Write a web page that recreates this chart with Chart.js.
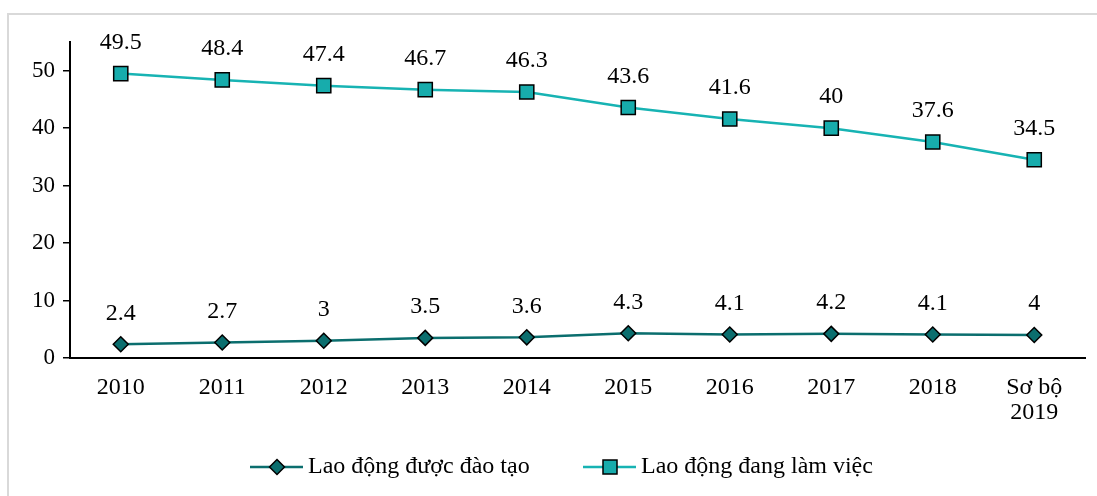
<!DOCTYPE html>
<html>
<head>
<meta charset="utf-8">
<script src="https://cdn.jsdelivr.net/npm/chart.js@4"></script>
<style>
  html, body { margin: 0; padding: 0; background: #fff; }
  #wrap { width: 1097px; height: 496px; }
</style>
</head>
<body>
<div id="wrap"><canvas id="chart" width="1097" height="496"></canvas></div>
<script>
const years = ["2010", "2011", "2012", "2013", "2014", "2015", "2016", "2017", "2018", ["Sơ bộ", "2019"]];
const trained = [2.4, 2.7, 3, 3.5, 3.6, 4.3, 4.1, 4.2, 4.1, 4];
const working = [49.5, 48.4, 47.4, 46.7, 46.3, 43.6, 41.6, 40, 37.6, 34.5];
const yTicks = [0, 10, 20, 30, 40, 50];

const FONT = "'Liberation Serif', 'Times New Roman', serif";

// value labels above each point
const valueLabels = {
  id: "valueLabels",
  afterDatasetsDraw(chart) {
    const ctx = chart.ctx;
    ctx.save();
    ctx.font = "24px " + FONT;
    ctx.fillStyle = "#000";
    ctx.textAlign = "center";
    ctx.textBaseline = "middle";
    chart.data.datasets.forEach(function (ds, i) {
      chart.getDatasetMeta(i).data.forEach(function (pt, j) {
        ctx.fillText(String(ds.data[j]), pt.x, pt.y - 31);
      });
    });
    ctx.restore();
  },
};

// frame + legend with line and marker
const frameLegend = {
  id: "frameLegend",
  beforeDraw(chart) {
    const ctx = chart.ctx;
    ctx.save();
    ctx.strokeStyle = "#d9d9d9";
    ctx.lineWidth = 2;
    ctx.beginPath();
    ctx.moveTo(8, 500);
    ctx.lineTo(8, 14);
    ctx.lineTo(1097, 14);
    ctx.stroke();
    ctx.restore();
  },
  afterDraw(chart) {
    const ctx = chart.ctx;
    const y = 467;
    const items = [
      { x: 250, ds: chart.data.datasets[0] },
      { x: 583, ds: chart.data.datasets[1] },
    ];
    ctx.save();
    items.forEach(function (it) {
      ctx.strokeStyle = it.ds.borderColor;
      ctx.lineWidth = 2.5;
      ctx.beginPath();
      ctx.moveTo(it.x, y);
      ctx.lineTo(it.x + 53, y);
      ctx.stroke();
      ctx.fillStyle = it.ds.pointBackgroundColor;
      ctx.strokeStyle = "#000";
      ctx.lineWidth = 1.5;
      const cx = it.x + 27;
      if (it.ds.pointStyle === "rectRot") {
        ctx.beginPath();
        ctx.moveTo(cx, y - 7.5);
        ctx.lineTo(cx + 7.5, y);
        ctx.lineTo(cx, y + 7.5);
        ctx.lineTo(cx - 7.5, y);
        ctx.closePath();
        ctx.fill();
        ctx.stroke();
      } else {
        ctx.fillRect(cx - 7, y - 7, 14, 14);
        ctx.strokeRect(cx - 7, y - 7, 14, 14);
      }
      ctx.fillStyle = "#000";
      ctx.font = "24px " + FONT;
      ctx.textAlign = "left";
      ctx.textBaseline = "middle";
      ctx.fillText(it.ds.label, it.x + 58, y);
    });
    ctx.restore();
  },
};

new Chart(document.getElementById("chart"), {
  type: "line",
  data: {
    labels: years,
    datasets: [
      {
        label: "Lao động được đào tạo",
        data: trained,
        borderColor: "#0b6e6e",
        borderWidth: 2.5,
        pointStyle: "rectRot",
        pointRadius: 7.5,
        pointBackgroundColor: "#0b6e6e",
        pointBorderColor: "#000",
        pointBorderWidth: 1.5,
        tension: 0,
      },
      {
        label: "Lao động đang làm việc",
        data: working,
        borderColor: "#17b3b3",
        borderWidth: 2.5,
        pointStyle: "rect",
        pointRadius: 10,
        pointBackgroundColor: "#17acac",
        pointBorderColor: "#000",
        pointBorderWidth: 1.5,
        tension: 0,
      },
    ],
  },
  options: {
    responsive: false,
    animation: false,
    layout: { padding: { top: 42, left: 0, right: 12, bottom: 58 } },
    plugins: {
      legend: { display: false },
      tooltip: { enabled: false },
    },
    scales: {
      x: {
        offset: true,
        grid: { display: false, drawTicks: false },
        border: { display: true, color: "#000", width: 2 },
        ticks: {
          color: "#000",
          font: { family: FONT, size: 24, lineHeight: 1.05 },
          padding: 17,
          maxRotation: 0,
          autoSkip: false,
        },
        afterFit(scale) { scale.height = 80; },
      },
      y: {
        min: 0,
        max: 55,
        afterBuildTicks(scale) {
          scale.ticks = yTicks.map(function (v) { return { value: v }; });
        },
        grid: {
          display: true,
          drawOnChartArea: false,
          drawTicks: true,
          tickLength: 7,
          color: "#000",
          lineWidth: 1.5,
        },
        border: { display: true, color: "#000", width: 2 },
        ticks: {
          color: "#000",
          font: { family: FONT, size: 23 },
          padding: 8,
        },
        afterFit(scale) { scale.width = 70; },
      },
    },
  },
  plugins: [valueLabels, frameLegend],
});
</script>
</body>
</html>
